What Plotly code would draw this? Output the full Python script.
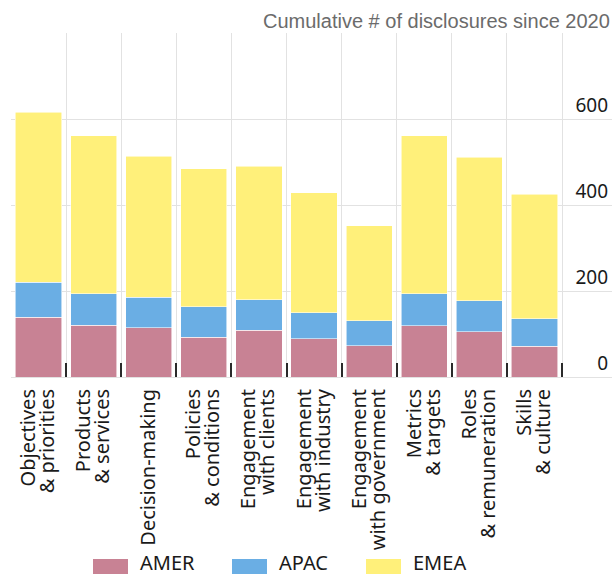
import plotly.graph_objects as go

categories = [
    "Objectives<br>& priorities",
    "Products<br>& services",
    "Decision-making",
    "Policies<br>& conditions",
    "Engagement<br>with clients",
    "Engagement<br>with industry",
    "Engagement<br>with government",
    "Metrics<br>& targets",
    "Roles<br>& remuneration",
    "Skills<br>& culture",
]
amer = [139, 120, 114, 92, 109, 89, 73, 119, 105, 72]
apac = [81, 74, 71, 71, 71, 60, 58, 75, 72, 64]
emea = [396, 367, 328, 321, 310, 279, 221, 367, 334, 289]
series_names = ["AMER", "APAC", "EMEA"]
series_values = [amer, apac, emea]
colors = ["#C88294", "#6AAEE4", "#FFF07A"]
y_tickvals = [0, 200, 400, 600, 800]
y_ticktext = ["0", "200", "400", "600", ""]
subtitle = "Cumulative # of disclosures since 2020"

W, H = 612, 574
ML, MR, MT, MB = 11, 0, 33, 197
plot_w = W - ML - MR
plot_h = H - MT - MB
CAT_PX = 55.1
x_max = -0.5 + plot_w / CAT_PX

fig = go.Figure()
for name, vals, col in zip(series_names, series_values, colors):
    fig.add_trace(go.Bar(
        x=categories, y=vals, name=name,
        marker=dict(color=col, line=dict(color="rgba(255,255,255,0.7)", width=0.8)),
        showlegend=False,
    ))

# split labels into lines; tick labels drawn on overlaid axes for tight line spacing
idx = list(range(len(categories)))
single_vals = [i for i, c in zip(idx, categories) if "<br>" not in c]
single_text = [c for c in categories if "<br>" not in c]
two_vals = [i for i, c in zip(idx, categories) if "<br>" in c]
line1_text = [c.split("<br>")[0] for c in categories if "<br>" in c]
line2_text = [c.split("<br>")[1] for c in categories if "<br>" in c]

# invisible helper traces so the overlaid label axes are drawn
for ax_id, vals in (("x2", single_vals), ("x3", two_vals), ("x4", two_vals)):
    fig.add_trace(go.Scatter(
        x=vals, y=[None] * len(vals), xaxis=ax_id, yaxis="y",
        mode="markers", marker=dict(opacity=0), showlegend=False, hoverinfo="skip",
    ))

label_font = dict(family="Noto Sans", size=20, color="#1a1a1a")
STANDOFF = 7


def label_axis(vals, texts, shift):
    return dict(
        overlaying="x", anchor="y", side="bottom", type="linear",
        range=[-0.5, x_max], tickmode="array", tickvals=vals, ticktext=texts,
        tickangle=-90, tickfont=label_font, ticklabelshift=shift,
        ticklabelstandoff=STANDOFF, showgrid=False, zeroline=False,
        showline=False, ticks="", fixedrange=True,
    )


fig.update_layout(
    width=W, height=H,
    margin=dict(l=ML, r=MR, t=MT, b=MB, pad=0),
    barmode="stack",
    bargap=0.16,
    plot_bgcolor="white",
    paper_bgcolor="white",
    font=dict(family="Noto Sans", color="#1a1a1a"),
    xaxis=dict(
        range=[-0.5, x_max],
        tickson="boundaries",
        ticks="inside",
        ticklen=14,
        tickwidth=1.8,
        tickcolor="#2a2a2a",
        showgrid=True,
        gridcolor="#e2e2e2",
        gridwidth=1,
        showticklabels=False,
        showline=False,
        zeroline=False,
        fixedrange=True,
    ),
    xaxis2=label_axis(single_vals, single_text, 0),
    xaxis3=label_axis(two_vals, line1_text, -10),
    xaxis4=label_axis(two_vals, line2_text, 9),
    yaxis=dict(
        range=[0, 800],
        side="right",
        tickvals=y_tickvals,
        ticktext=y_ticktext,
        ticklabelposition="inside",
        ticklabelshift=-14,
        ticklabelstandoff=1,
        tickfont=dict(family="Noto Sans", size=19, color="#1a1a1a"),
        showgrid=True,
        gridcolor="#e2e2e2",
        gridwidth=1,
        zeroline=True,
        zerolinecolor="#e2e2e2",
        zerolinewidth=1,
        ticks="",
        showline=False,
        fixedrange=True,
    ),
)


def px_x(x):
    return (x - ML) / plot_w


def px_y(y):
    return (H - MB - y) / plot_h


# subtitle
fig.add_annotation(
    text=subtitle, xref="paper", yref="paper", x=1.0, y=px_y(21),
    xanchor="right", yanchor="middle", showarrow=False,
    font=dict(family="Liberation Sans, Arial", size=20, color="#6b6b6b"),
)

# legend with wide swatches
sw_left = [93, 232, 366]
sw_w, sw_top, sw_h = 35, 559, 15
for name, col, x0 in zip(series_names, colors, sw_left):
    fig.add_shape(
        type="rect", xref="paper", yref="paper",
        x0=px_x(x0), x1=px_x(x0 + sw_w), y0=px_y(sw_top), y1=px_y(sw_top + sw_h),
        fillcolor=col, line=dict(width=0),
    )
    fig.add_annotation(
        text=name, xref="paper", yref="paper", x=px_x(x0 + sw_w + 10), y=px_y(562),
        xanchor="left", yanchor="middle", showarrow=False,
        font=dict(family="Noto Sans", size=20, color="#1a1a1a"),
    )

fig.write_html("out.html")
